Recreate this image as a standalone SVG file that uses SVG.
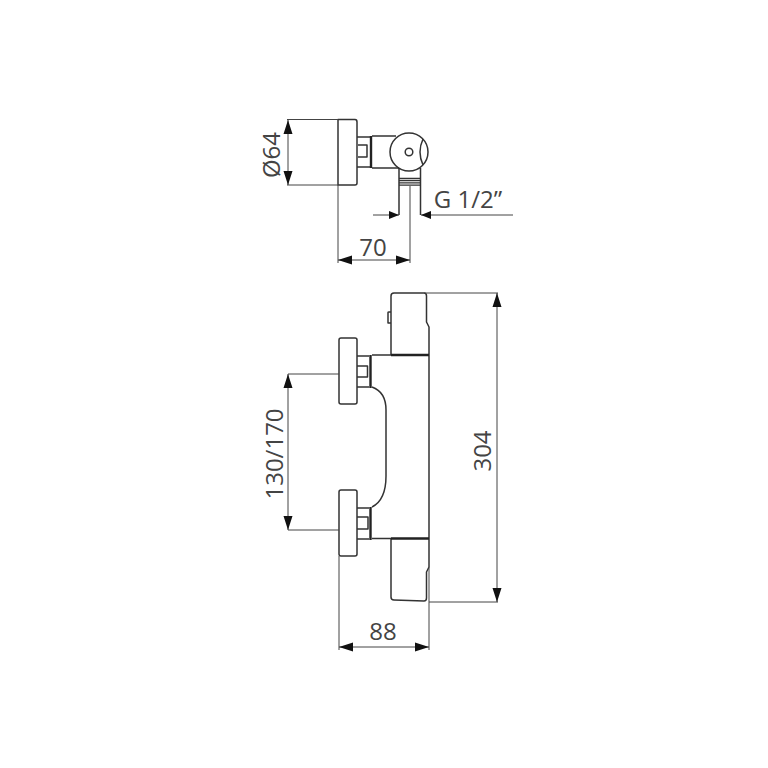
<svg xmlns="http://www.w3.org/2000/svg" width="768" height="768" viewBox="0 0 768 768">
<style>
.o{fill:none;stroke:#333;stroke-width:1.5;stroke-linejoin:round}
.h{fill:none;stroke:#222;stroke-width:2.4}
.t{fill:none;stroke:#333;stroke-width:1.300}
.d{fill:none;stroke:#444;stroke-width:1}
.a{fill:#111}
text{font-family:"Open Sans","Noto Sans",sans-serif;font-size:24px;fill:#444;text-anchor:middle}
</style>
<rect width="768" height="768" fill="#fff"/>
<g id="top-view">
<path class="o" d="M338 119.500H355Q357 119.500 357 122V183Q357 185 355 185H338Z"/>
<path class="o" d="M357 137H370M357 167H370M358 145H367V157H358M372 136H396M372 168H399"/>
<path class="h" d="M371 136V168"/>
<circle class="o" cx="409" cy="152" r="19"/>
<circle class="o" cx="409" cy="152" r="3.800"/>
<path class="o" d="M423 139Q417 152 423 165"/>
<path class="o" d="M399 168V186M420.500 168V186M399 186V215M420.500 186V215"/>
<path class="t" d="M399 178.500H420.500M399 180.700H420.500M399 182.900H420.500M399 185.100H420.500"/>
</g>
<g id="front-view">
<path class="o" d="M339 340Q339 338 341 338H355Q357 338 357 340V402Q357 404 355 404H341Q339 404 339 402Z"/>
<path class="o" d="M339 492Q339 490 341 490H355Q357 490 357 492V554Q357 556 355 556H341Q339 556 339 554Z"/>
<path class="o" d="M357 356H369M357 387H369M357 366H367.500V377H357"/>
<path class="o" d="M357 508H369M357 539H369M357 517H368V529H357"/>
<path class="h" d="M370.500 355V388M370.500 507V540"/>
<path class="o" d="M372 355H391M372 538.500H391M372 387Q386 392 386 410V476Q386 500 372 507"/>
<path class="o" d="M391 355V296Q391 293 394 293H424Q426.500 293 426.500 296V322L429 327V567M388 323V312.500Q388 312 389 312H391V323H389Q388 323 388 323Z"/>
<path class="o" d="M391 539V597Q391 600 394 600L424 601Q426.500 601 426.500 598V572L429 567"/>
<path class="h" d="M391 355H429M391 538.500H429"/>
</g>
<g id="connectors">
<path class="d" d="M287 119.500H338M287 185H338M288 120V185M338 185V263M410 186V263M338 260H410M373 215H399M421 215H513"/>
<path class="d" d="M424 293H498M429 602H498M497 293V602M288 374H339M288 530H339M288 374V530M339 556V650M429 567V650M339 647H429"/>
<path class="a" d="M288 120L283.500 134H292.500ZM288 185L283.500 171H292.500ZM338 260L352 255.500V264.500ZM410 260L396 255.500V264.500ZM399 215L389 211V219ZM421 215L431 211V219ZM497 293L492.500 307H501.500ZM497 602L492.500 588H501.500ZM288 374L283.500 388H292.500ZM288 530L283.500 516H292.500ZM339 647L353 642.500V651.500ZM429 647L415 642.500V651.500Z"/>
</g>
<g id="labels">
<text transform="translate(280 155) rotate(-90)">Ø64</text>
<text x="373" y="256">70</text>
<text x="468" y="208">G 1/2”</text>
<text transform="translate(491 451) rotate(-90)">304</text>
<text transform="translate(283 454) rotate(-90)">130/170</text>
<text x="383" y="640">88</text>
</g>
</svg>
